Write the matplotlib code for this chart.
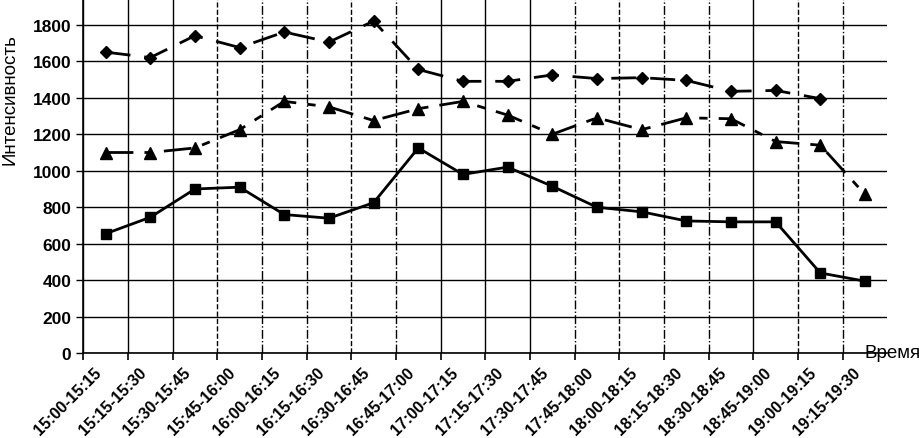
import numpy as np
import matplotlib
matplotlib.use("Agg")
import matplotlib.pyplot as plt
import matplotlib.transforms as mtransforms

# time intervals (categories)
periods = ["15:00-15:15", "15:15-15:30", "15:30-15:45", "15:45-16:00",
           "16:00-16:15", "16:15-16:30", "16:30-16:45", "16:45-17:00",
           "17:00-17:15", "17:15-17:30", "17:30-17:45", "17:45-18:00",
           "18:00-18:15", "18:15-18:30", "18:30-18:45", "18:45-19:00",
           "19:00-19:15", "19:15-19:30"]

# series
diamonds = [1650, 1620, 1740, 1675, 1760, 1705, 1820, 1555, 1490,
            1490, 1525, 1505, 1510, 1495, 1435, 1440, 1395]
triangles = [1100, 1100, 1125, 1225, 1380, 1350, 1275, 1340, 1380,
             1305, 1200, 1290, 1225, 1290, 1285, 1160, 1140, 870]
squares = [655, 745, 900, 910, 760, 740, 825, 1125, 980,
           1020, 915, 800, 775, 725, 720, 720, 440, 395]

yticks = [0, 200, 400, 600, 800, 1000, 1200, 1400, 1600, 1800]

plt.rcParams['font.family'] = ['Liberation Sans', 'DejaVu Sans']

fig = plt.figure(figsize=(9.2, 4.39), dpi=100)
ax = fig.add_axes([0.0905, 0.193, 0.874, 0.807])

n = len(periods)
xc = np.arange(n) + 0.5

ax.plot(xc[:len(diamonds)], diamonds, color="black", lw=2,
        dashes=(9, 5), marker="D", markersize=6.5)
ax.plot(xc, triangles, color="black", lw=2,
        dashes=(10, 4, 3, 4), marker="^", markersize=8.5)
ax.plot(xc, squares, color="black", lw=2,
        marker="s", markersize=7)

ax.set_xlim(0, n)
ax.set_ylim(0, 1941)

# boundaries get tick marks and gridlines, centres get labels
ax.set_xticks(np.arange(0, n))
ax.set_xticklabels([])
ax.set_xticks(xc, minor=True)
ax.set_xticklabels(periods, minor=True, rotation=45, ha="right",
                   rotation_mode="anchor", fontsize=11.5, fontweight="bold")
ax.tick_params(axis="x", which="minor", length=0, pad=6)
ax.tick_params(axis="x", which="major", length=5, width=1.2, color="black")
shift = mtransforms.ScaledTranslation(-0.12, -0.03, fig.dpi_scale_trans)
for lab in ax.get_xticklabels(minor=True):
    lab.set_transform(lab.get_transform() + shift)

ax.set_yticks(yticks)
ax.set_yticklabels([str(v) for v in yticks], fontsize=12.5, fontweight="bold")
ax.tick_params(axis="y", length=5, width=1, color="black")

ax.grid(True, axis="y", color="black", lw=1)
ax.grid(True, axis="x", which="major", color="black", lw=1)

# the scanned vertical lines come in mixed styles
vstyles = ['-', '-', '-', '--', '-.', '-.', '--', '-.', '-', '-', '-',
           '-.', '--', '-.', '-.', '-', '--', '-.']
for gl, st in zip(ax.xaxis.get_gridlines(), vstyles):
    gl.set_linestyle(st)

for side in ["top", "right"]:
    ax.spines[side].set_visible(False)
ax.spines["left"].set_linewidth(1.2)
ax.spines["bottom"].set_linewidth(1.2)
ax.set_axisbelow(True)

ax.set_ylabel("Интенсивность", fontsize=13.5)
ax.yaxis.set_label_coords(-0.081, 0.718)
fig.text(0.94, 0.195, "Время", fontsize=13.5, ha="left", va="center")

fig.savefig("out.png", dpi=100)
